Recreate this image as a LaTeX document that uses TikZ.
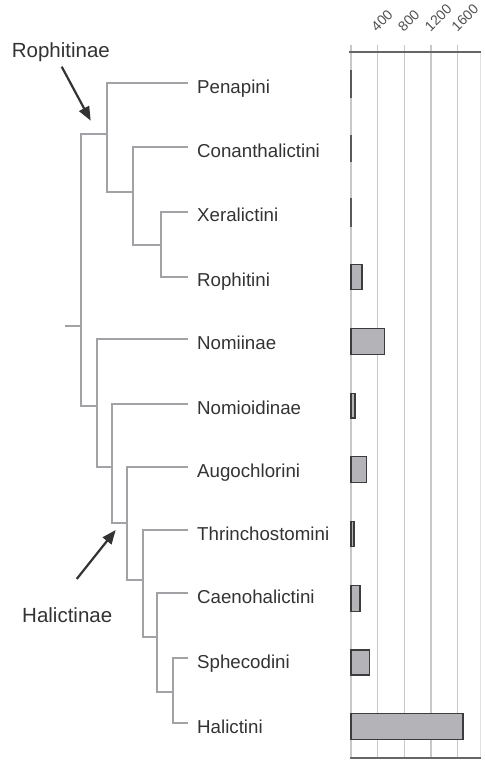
\documentclass[tikz,border=0pt]{standalone}
\usepackage{fontspec}
\setmainfont{Liberation Sans}
\usetikzlibrary{arrows.meta}
\definecolor{treec}{HTML}{A2A2A6}
\definecolor{txt}{HTML}{333333}
\definecolor{gridc}{HTML}{C8C8C8}
\definecolor{axisc}{HTML}{666666}
\definecolor{ticktxt}{HTML}{505050}
\definecolor{barfill}{HTML}{B4B4B8}
\definecolor{barline}{HTML}{3C3C3C}
\begin{document}
\begin{tikzpicture}[x=1pt,y=-1pt,
  tree/.style={draw=treec,line width=2.1pt},
  taxon/.style={anchor=base west,inner sep=0pt,text=txt,font=\fontsize{18.7}{22}\selectfont},
  group/.style={anchor=base west,inner sep=0pt,text=txt,font=\fontsize{20.5}{24}\selectfont},
  pointer/.style={draw=txt,line width=2.2pt,-{Triangle[length=14pt,width=11pt]}},
  gridline/.style={draw=gridc,line width=1.2pt},
  axisline/.style={draw=axisc,line width=2.4pt},
  bar/.style={draw=barline,fill=barfill,line width=1.5pt},
  thinbar/.style={fill=barline!85},
  ticklabel/.style={anchor=base west,rotate=45,inner sep=0pt,text=ticktxt,font=\fontsize{14}{16}\selectfont}]
\useasboundingbox (0,0) rectangle (485,761);

% chart grid
\foreach \x in {351,377.5,404.3,431,457.7}
  \draw[gridline] (\x,45) -- (\x,758);
\draw[draw=gridc!55,line width=1pt] (480,52) -- (480,758);
\draw[axisline] (349,52) -- (481,52);
\draw[draw=axisc,line width=1.6pt] (350,758) -- (481,758);
\foreach \x/\v in {377.5/400,404.3/800,431/1200,457.7/1600}
  \node[ticklabel] (tick\v) at (\x-0.5,32.5) {\v};

% bars
\foreach \a/\b in {70/98.3,135/161.7,198.3/226.7}
  \fill[thinbar] (350.2,\a) rectangle (351.9,\b);
\foreach \a/\b/\r in {264.7/289.3/362,328.4/354.6/384.3,393.4/418/355,456.7/482.6/366.6,521.4/546.6/354,585.4/611.6/360,650/675/369.3,713.4/739.3/463}
  \draw[bar] (351,\a) rectangle (\r,\b);

% leaves
\foreach \n/\y/\t in {pen/83.3/Penapini,con/147.3/Conanthalictini,xer/211.7/Xeralictini,rop/276.7/Rophitini,nom/339.3/Nomiinae,noi/404/Nomioidinae,aug/467.3/Augochlorini,thr/530/Thrinchostomini,cae/593.3/Caenohalictini,sph/658.3/Sphecodini,hal/723.3/Halictini}{
  \coordinate (t\n) at (188,\y);
  \node[taxon] (l\n) at (197,\y+10) {\t};
}

% internal nodes
\coordinate (A) at (107,134.3);
\coordinate (B) at (133.3,191.7);
\coordinate (C) at (161,245);
\coordinate (R) at (80.7,326);
\coordinate (Rt) at (65,326);
\coordinate (D) at (97.3,405.7);
\coordinate (E) at (112.3,467);
\coordinate (F) at (127,522.7);
\coordinate (G) at (142.7,580);
\coordinate (H) at (157.3,637.3);
\coordinate (I) at (172.7,691.7);

\draw[tree] (tpen) -| (A) |- (B);
\draw[tree] (tcon) -| (B) |- (C);
\draw[tree] (txer) -| (C) |- (trop);
\draw[tree] (A) -| (R) |- (D);
\draw[tree] (R) -- (Rt);
\draw[tree] (tnom) -| (D) |- (E);
\draw[tree] (tnoi) -| (E) |- (F);
\draw[tree] (taug) -| (F) |- (G);
\draw[tree] (tthr) -| (G) |- (H);
\draw[tree] (tcae) -| (H) |- (I);
\draw[tree] (tsph) -| (I) |- (thal);

% group labels and pointers
\node[group] (roph) at (11.7,57.3) {Rophitinae};
\node[group] (hali) at (22,622) {Halictinae};
\coordinate (rtail) at (61.7,66.7);
\coordinate (rtip) at (90.7,120.7);
\coordinate (htail) at (76.7,579);
\coordinate (htip) at (115.7,530);
\draw[pointer] (rtail) -- (rtip);
\draw[pointer] (htail) -- (htip);
\end{tikzpicture}
\end{document}
